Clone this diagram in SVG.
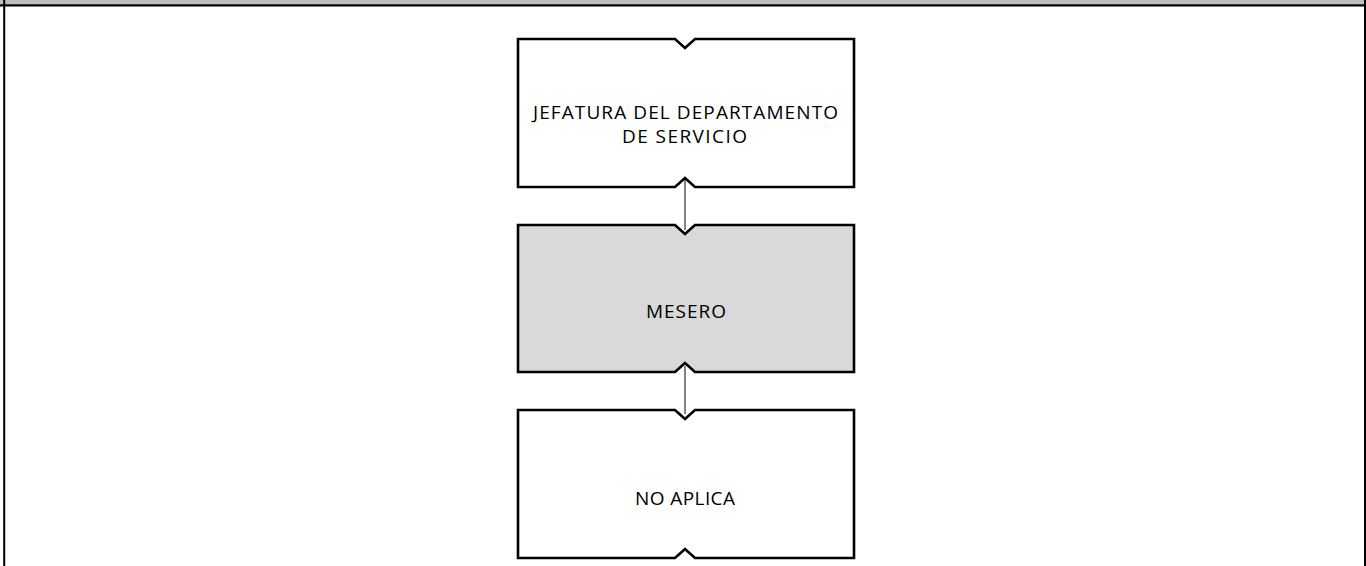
<svg xmlns="http://www.w3.org/2000/svg" width="1366" height="566" viewBox="0 0 1366 566">
<style>
.box{stroke:#000;stroke-width:2.6;stroke-linejoin:miter}
.lbl{font-family:"Open Sans","Liberation Sans",sans-serif;font-size:19px;fill:#000}
.conn{stroke:#404040;stroke-width:1.3;fill:none}
</style>
<rect x="0" y="0" width="1366" height="566" fill="#fff"/>
<rect x="0" y="0" width="1366" height="4.5" fill="#bfbfbf"/>
<g id="frame" stroke="#000" fill="none">
<line x1="0" y1="5.4" x2="1366" y2="5.4" stroke-width="2.2"/>
<line x1="4.2" y1="0" x2="4.2" y2="566" stroke-width="2"/>
<line x1="1365" y1="0" x2="1365" y2="566" stroke-width="2"/>
</g>
<g id="connectors">
<line class="conn" x1="685" y1="180" x2="685" y2="230"/>
<line class="conn" x1="685" y1="366" x2="685" y2="414"/>
</g>
<g id="node1">
<path class="box" fill="#fff" d="M518 39 H675 L685 48 L695 39 H854 V187 H695 L685 178 L675 187 H518 Z"/>
<text class="lbl" x="533" y="119" textLength="305" lengthAdjust="spacing">JEFATURA DEL DEPARTAMENTO</text>
<text class="lbl" x="622" y="143" textLength="125" lengthAdjust="spacing">DE SERVICIO</text>
</g>
<g id="node2">
<path class="box" fill="#d9d9d9" d="M518 225 H675 L685 234 L695 225 H854 V372 H695 L685 363 L675 372 H518 Z"/>
<text class="lbl" x="646" y="318" textLength="80" lengthAdjust="spacing">MESERO</text>
</g>
<g id="node3">
<path class="box" fill="#fff" d="M518 410 H675 L685 419 L695 410 H854 V558 H695 L685 549 L675 558 H518 Z"/>
<text class="lbl" x="635" y="505" textLength="100" lengthAdjust="spacing">NO APLICA</text>
</g>
</svg>
